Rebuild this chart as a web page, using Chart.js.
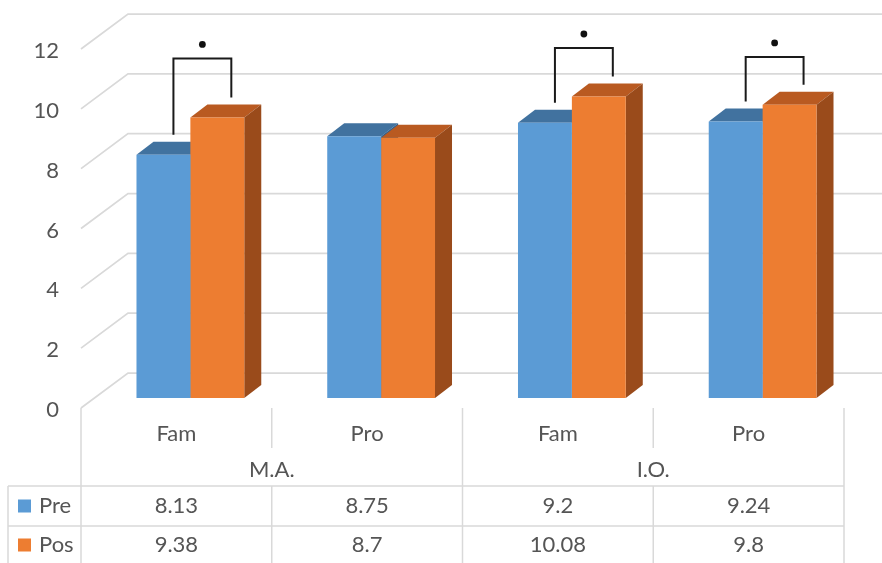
<!DOCTYPE html>
<html>
<head>
<meta charset="utf-8">
<script src="https://cdn.jsdelivr.net/npm/chart.js@4/dist/chart.umd.min.js"></script>
<style>
  html, body { margin: 0; padding: 0; background: #ffffff; }
  canvas { display: block; }
</style>
</head>
<body>
<canvas id="chart" width="882" height="563"></canvas>
<script>
// Categories, groups and values
const categories = ['Fam', 'Pro', 'Fam', 'Pro'];
const groups = ['M.A.', 'I.O.'];
const seriesNames = ['Pre', 'Pos'];
const preValues = [8.13, 8.75, 9.2, 9.24];
const posValues = [9.38, 8.7, 10.08, 9.8];
const yTicks = [0, 2, 4, 6, 8, 10, 12];
// Height (axis units) of the significance bracket per category; null = none
const sigBracket = [11.35, null, 11.7, 11.4];

// Look
const FONT = 'Lato';
const TEXT = '#555555';
const GRID = '#d9d9d9';
const BLUE = { front: '#5b9bd5', top: '#41729f', side: '#2f5f8c' };
const ORANGE = { front: '#ed7d31', top: '#b95a21', side: '#9a4b1b' };
const FRONT = { dx: -14, dy: 10 };   // front plane relative to bar faces
const BACK = { dx: 33, dy: -25 };    // back wall relative to bar faces
const DEPTH = { dx: 17, dy: -13 };   // bar depth

const threeD = {
  id: 'threeD',
  beforeDatasetsDraw(chart) {
    const { ctx, scales: { x, y } } = chart;
    ctx.save();
    ctx.strokeStyle = GRID;
    ctx.lineWidth = 1.75;
    const left = x.left;
    // back wall gridlines and side-wall diagonals
    yTicks.forEach(v => {
      const py = y.getPixelForValue(v);
      ctx.beginPath();
      ctx.moveTo(left + FRONT.dx, py + FRONT.dy);
      ctx.lineTo(left + BACK.dx, py + BACK.dy);
      ctx.lineTo(chart.width, py + BACK.dy);
      ctx.stroke();
    });
    // top and side faces of bars
    const palettes = [BLUE, ORANGE];
    chart.data.datasets.forEach((ds, di) => {
      const meta = chart.getDatasetMeta(di);
      const pal = palettes[di];
      meta.data.forEach(bar => {
        const x0 = bar.x - bar.width / 2, x1 = bar.x + bar.width / 2;
        const t = bar.y, b = bar.base;
        ctx.fillStyle = pal.top;
        ctx.beginPath();
        ctx.moveTo(x0, t);
        ctx.lineTo(x1, t);
        ctx.lineTo(x1 + DEPTH.dx, t + DEPTH.dy);
        ctx.lineTo(x0 + DEPTH.dx, t + DEPTH.dy);
        ctx.closePath();
        ctx.fill();
        ctx.fillStyle = pal.side;
        ctx.beginPath();
        ctx.moveTo(x1, t);
        ctx.lineTo(x1 + DEPTH.dx, t + DEPTH.dy);
        ctx.lineTo(x1 + DEPTH.dx, b + DEPTH.dy);
        ctx.lineTo(x1, b);
        ctx.closePath();
        ctx.fill();
      });
    });
    ctx.restore();
  },
  afterDraw(chart) {
    const { ctx, scales: { x, y } } = chart;
    const n = categories.length;
    const step = (x.right - x.left) / n;
    const edge = i => x.left + i * step + FRONT.dx;
    const center = i => x.getPixelForValue(i) + FRONT.dx;
    const floorY = y.getPixelForValue(0) + FRONT.dy;
    const tableTop = 486, rowMid = 526, tableBottom = 563;
    ctx.save();

    // significance brackets
    const preMeta = chart.getDatasetMeta(0), posMeta = chart.getDatasetMeta(1);
    ctx.strokeStyle = '#1a1a1a';
    ctx.lineWidth = 2;
    ctx.fillStyle = '#111111';
    sigBracket.forEach((h, i) => {
      if (h == null) return;
      const a = preMeta.data[i], b = posMeta.data[i];
      const lx = a.x + 10, rx = b.x + 14;
      const hy = y.getPixelForValue(h);
      ctx.beginPath();
      ctx.moveTo(lx, a.y - 20);
      ctx.lineTo(lx, hy);
      ctx.lineTo(rx, hy);
      ctx.lineTo(rx, b.y - 20);
      ctx.stroke();
      ctx.beginPath();
      ctx.arc((lx + rx) / 2, hy - 14, 3.4, 0, Math.PI * 2);
      ctx.fill();
    });

    // category/table grid lines
    ctx.strokeStyle = GRID;
    ctx.lineWidth = 1.5;
    const line = (x1, y1, x2, y2) => { ctx.beginPath(); ctx.moveTo(x1, y1); ctx.lineTo(x2, y2); ctx.stroke(); };
    for (let i = 0; i <= n; i++) {
      const ex = edge(i);
      if (i % 2 === 0) {
        line(ex, floorY, ex, tableBottom);
      } else {
        line(ex, floorY, ex, floorY + 40);
        line(ex, tableTop, ex, tableBottom);
      }
    }
    line(8, tableTop, edge(n), tableTop);
    line(8, rowMid, edge(n), rowMid);
    line(8, tableTop, 8, tableBottom);

    // group labels
    ctx.fillStyle = TEXT;
    ctx.font = `22px ${FONT}`;
    ctx.textAlign = 'center';
    ctx.textBaseline = 'middle';
    groups.forEach((g, gi) => {
      ctx.fillText(g, (center(gi * 2) + center(gi * 2 + 1)) / 2, 470);
    });

    // data table
    const rows = [preValues, posValues];
    const rowY = [506, 545];
    const keys = [BLUE.front, ORANGE.front];
    rows.forEach((vals, r) => {
      ctx.fillStyle = keys[r];
      ctx.fillRect(18, rowY[r] - 6.5, 13, 13);
      ctx.fillStyle = TEXT;
      ctx.textAlign = 'left';
      ctx.fillText(seriesNames[r], 39, rowY[r]);
      ctx.textAlign = 'center';
      vals.forEach((v, i) => ctx.fillText(String(v), center(i), rowY[r]));
    });
    ctx.restore();
  }
};

function build() {
  new Chart(document.getElementById('chart'), {
    type: 'bar',
    data: {
      labels: categories,
      datasets: [
        { label: seriesNames[0], data: preValues, backgroundColor: BLUE.front, borderWidth: 0 },
        { label: seriesNames[1], data: posValues, backgroundColor: ORANGE.front, borderWidth: 0 }
      ]
    },
    options: {
      responsive: false,
      animation: false,
      devicePixelRatio: 1,
      layout: { padding: { top: 39, right: 24, left: 0, bottom: 0 } },
      datasets: { bar: { categoryPercentage: 0.565, barPercentage: 1.0 } },
      plugins: { legend: { display: false }, tooltip: { enabled: false } },
      scales: {
        x: {
          grid: { display: false },
          border: { display: false },
          ticks: { color: TEXT, font: { family: FONT, size: 22 }, padding: 15, labelOffset: FRONT.dx },
          afterFit(s) {
            s.height = 165;
            s.paddingLeft = s.paddingRight = s.paddingTop = s.paddingBottom = 0;
          }
        },
        y: {
          min: 0,
          max: 12,
          afterBuildTicks(s) { s.ticks = yTicks.map(v => ({ value: v })); },
          grid: { display: false },
          border: { display: false },
          ticks: { color: TEXT, font: { family: FONT, size: 22 }, padding: 28, labelOffset: 12 },
          afterFit(s) {
            s.width = 95;
            s.paddingLeft = s.paddingRight = s.paddingTop = s.paddingBottom = 0;
          }
        }
      }
    },
    plugins: [threeD]
  });
}

if (document.fonts && document.fonts.load) {
  document.fonts.load(`22px ${FONT}`).then(build, build);
} else {
  build();
}
</script>
</body>
</html>
